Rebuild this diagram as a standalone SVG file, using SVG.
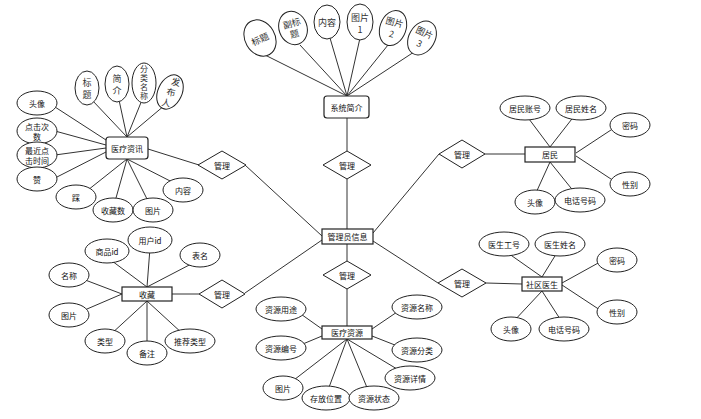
<svg xmlns="http://www.w3.org/2000/svg" width="701" height="419" viewBox="0 0 701 419">
<style>
.ln{stroke:#333;stroke-width:1;fill:none}
.el{fill:#fff;stroke:#222;stroke-width:1}
.en{fill:#fff;stroke:#222;stroke-width:1.2}
.dm{fill:#fff;stroke:#222;stroke-width:1}
text{font-family:"Noto Sans CJK SC","Noto Sans",sans-serif;font-size:8px;fill:#111;text-anchor:middle;dominant-baseline:central}
.sf{font-size:9px;fill:#333}
.vt{font-size:8px;fill:#333;writing-mode:vertical-rl;letter-spacing:1px}
</style>
<rect width="701" height="419" fill="#fff"/>
<g id="connectors">
<line class="ln" x1="347" y1="96" x2="265" y2="55"/>
<line class="ln" x1="347" y1="96" x2="300" y2="45"/>
<line class="ln" x1="347" y1="96" x2="330" y2="38"/>
<line class="ln" x1="347" y1="96" x2="360" y2="38"/>
<line class="ln" x1="347" y1="96" x2="388" y2="45"/>
<line class="ln" x1="347" y1="96" x2="414" y2="52"/>
<line class="ln" x1="127" y1="137" x2="92" y2="100"/>
<line class="ln" x1="127" y1="137" x2="119" y2="100"/>
<line class="ln" x1="127" y1="137" x2="142" y2="100"/>
<line class="ln" x1="127" y1="137" x2="165" y2="105"/>
<line class="ln" x1="106" y1="140" x2="55" y2="107"/>
<line class="ln" x1="106" y1="145" x2="55" y2="131"/>
<line class="ln" x1="106" y1="148" x2="55" y2="155"/>
<line class="ln" x1="106" y1="152" x2="55" y2="178"/>
<line class="ln" x1="127" y1="159" x2="88" y2="190"/>
<line class="ln" x1="127" y1="159" x2="114" y2="205"/>
<line class="ln" x1="127" y1="159" x2="150" y2="205"/>
<line class="ln" x1="127" y1="159" x2="178" y2="185"/>
<line class="ln" x1="550" y1="147" x2="526" y2="115"/>
<line class="ln" x1="550" y1="147" x2="575" y2="115"/>
<line class="ln" x1="576" y1="153" x2="614" y2="128"/>
<line class="ln" x1="576" y1="156" x2="614" y2="181"/>
<line class="ln" x1="550" y1="162" x2="535" y2="195"/>
<line class="ln" x1="550" y1="162" x2="575" y2="193"/>
<line class="ln" x1="542" y1="277" x2="505" y2="251"/>
<line class="ln" x1="542" y1="277" x2="558" y2="251"/>
<line class="ln" x1="562" y1="283" x2="600" y2="262"/>
<line class="ln" x1="562" y1="285" x2="600" y2="310"/>
<line class="ln" x1="542" y1="291" x2="513" y2="322"/>
<line class="ln" x1="542" y1="291" x2="562" y2="322"/>
<line class="ln" x1="147" y1="287" x2="108" y2="258"/>
<line class="ln" x1="147" y1="287" x2="150" y2="248"/>
<line class="ln" x1="147" y1="287" x2="195" y2="262"/>
<line class="ln" x1="122" y1="294" x2="80" y2="278"/>
<line class="ln" x1="122" y1="294" x2="80" y2="312"/>
<line class="ln" x1="147" y1="301" x2="110" y2="335"/>
<line class="ln" x1="147" y1="301" x2="147" y2="345"/>
<line class="ln" x1="147" y1="301" x2="183" y2="334"/>
<line class="ln" x1="322" y1="329" x2="298" y2="312"/>
<line class="ln" x1="322" y1="336" x2="298" y2="346"/>
<line class="ln" x1="372" y1="329" x2="400" y2="310"/>
<line class="ln" x1="372" y1="336" x2="400" y2="347"/>
<line class="ln" x1="347" y1="339" x2="290" y2="383"/>
<line class="ln" x1="347" y1="339" x2="328" y2="390"/>
<line class="ln" x1="347" y1="339" x2="368" y2="390"/>
<line class="ln" x1="347" y1="339" x2="402" y2="372"/>
<line class="ln" x1="347" y1="118" x2="347" y2="151"/>
<line class="ln" x1="347" y1="179" x2="347" y2="229"/>
<line class="ln" x1="148" y1="149" x2="199" y2="165"/>
<line class="ln" x1="245" y1="165" x2="322" y2="236"/>
<line class="ln" x1="525" y1="154" x2="485" y2="154"/>
<line class="ln" x1="439" y1="154" x2="373" y2="233"/>
<line class="ln" x1="347" y1="244" x2="347" y2="261"/>
<line class="ln" x1="347" y1="289" x2="347" y2="326"/>
<line class="ln" x1="172" y1="294" x2="199" y2="294"/>
<line class="ln" x1="245" y1="293" x2="322" y2="240"/>
<line class="ln" x1="522" y1="284" x2="486" y2="283"/>
<line class="ln" x1="438" y1="283" x2="373" y2="241"/>
</g>
<g id="admin"><rect class="en" x="322" y="229" width="51" height="15"/><text x="347.5" y="236.5">管理员信息</text></g>
<g id="sysintro"><rect class="en" x="324" y="96" width="45" height="22" rx="3"/><text x="346.5" y="107">系统简介</text></g>
<g id="s-title"><ellipse class="el" cx="260" cy="38" rx="15" ry="19" transform="rotate(-30 260 38)"/><text class="sf" x="260" y="39" transform="rotate(-25 260 39)">标题</text></g>
<g id="s-subtitle"><ellipse class="el" cx="293" cy="28" rx="14" ry="17" transform="rotate(-20 293 28)"/><text class="sf" x="293" y="23" transform="rotate(-15 293 28)">副标</text><text class="sf" x="293" y="34" transform="rotate(-15 293 28)">题</text></g>
<g id="s-content"><ellipse class="el" cx="327" cy="22" rx="13" ry="17"/><text class="sf" x="327" y="22">内容</text></g>
<g id="s-pic1"><ellipse class="el" cx="360" cy="22" rx="13" ry="18"/><text class="sf" x="360" y="17">图片</text><text class="sf" x="360" y="29">1</text></g>
<g id="s-pic2"><ellipse class="el" cx="393" cy="28" rx="13" ry="18" transform="rotate(20 393 28)"/><text class="sf" x="393" y="22" transform="rotate(15 393 28)">图片</text><text class="sf" x="393" y="34" transform="rotate(15 393 28)">2</text></g>
<g id="s-pic3"><ellipse class="el" cx="422" cy="38" rx="13" ry="18" transform="rotate(30 422 38)"/><text class="sf" x="422" y="32" transform="rotate(25 422 38)">图片</text><text class="sf" x="422" y="44" transform="rotate(25 422 38)">3</text></g>
<g id="d-top"><polygon class="dm" points="347,151 371,165 347,179 323,165"/><text x="347" y="165">管理</text></g>
<g id="d-lt"><polygon class="dm" points="222,151 246,165 222,179 198,165"/><text x="222" y="165">管理</text></g>
<g id="d-rt"><polygon class="dm" points="462,140 485,154 462,168 439,154"/><text x="462" y="154">管理</text></g>
<g id="d-bot"><polygon class="dm" points="347,261 371,275 347,289 323,275"/><text x="347" y="275">管理</text></g>
<g id="d-lb"><polygon class="dm" points="222,280 245,294 222,308 199,294"/><text x="222" y="294">管理</text></g>
<g id="d-rb"><polygon class="dm" points="462,269 486,283 462,297 438,283"/><text x="462" y="283">管理</text></g>
<g id="medinfo"><rect class="en" x="106" y="137" width="42" height="22" rx="3"/><text x="127" y="148">医疗资讯</text></g>
<g id="mi-title"><ellipse class="el" cx="87" cy="88" rx="12" ry="17"/><text class="sf" x="87" y="82">标</text><text class="sf" x="87" y="94">题</text></g>
<g id="mi-intro"><ellipse class="el" cx="117" cy="84" rx="12" ry="18"/><text class="sf" x="117" y="78">简</text><text class="sf" x="117" y="90">介</text></g>
<g id="mi-cat"><ellipse class="el" cx="144" cy="83" rx="12" ry="20"/><text class="vt" x="144" y="83">分类名称</text></g>
<g id="mi-author"><ellipse class="el" cx="170" cy="92" rx="12" ry="18" transform="rotate(25 170 92)"/><text class="sf" x="174" y="81" transform="rotate(10 170 92)">发</text><text class="sf" x="171" y="92" transform="rotate(10 170 92)">布</text><text class="sf" x="168" y="103" transform="rotate(10 170 92)">人</text></g>
<g id="mi-avatar"><ellipse class="el" cx="37" cy="103" rx="20" ry="12"/><text x="37" y="103">头像</text></g>
<g id="mi-clicks"><ellipse class="el" cx="37" cy="131" rx="20" ry="13"/><text x="37" y="126">点击次</text><text x="37" y="136">数</text></g>
<g id="mi-lastclick"><ellipse class="el" cx="37" cy="155" rx="20" ry="13"/><text x="37" y="150">最近点</text><text x="37" y="160">击时间</text></g>
<g id="mi-like"><ellipse class="el" cx="37" cy="179" rx="20" ry="12"/><text x="37" y="179">赞</text></g>
<g id="mi-dislike"><ellipse class="el" cx="76" cy="197" rx="20" ry="12"/><text x="76" y="197">踩</text></g>
<g id="mi-favs"><ellipse class="el" cx="113" cy="210" rx="20" ry="12"/><text x="113" y="210">收藏数</text></g>
<g id="mi-pic"><ellipse class="el" cx="153" cy="210" rx="20" ry="12"/><text x="153" y="210">图片</text></g>
<g id="mi-content"><ellipse class="el" cx="183" cy="190" rx="20" ry="12"/><text x="183" y="190">内容</text></g>
<g id="resident"><rect class="en" x="525" y="147" width="50" height="15"/><text x="550" y="154.5">居民</text></g>
<g id="r-account"><ellipse class="el" cx="525" cy="108" rx="25" ry="12"/><text x="525" y="108">居民账号</text></g>
<g id="r-name"><ellipse class="el" cx="581" cy="108" rx="25" ry="12"/><text x="581" y="108">居民姓名</text></g>
<g id="r-pwd"><ellipse class="el" cx="630" cy="125" rx="20" ry="12"/><text x="630" y="125">密码</text></g>
<g id="r-sex"><ellipse class="el" cx="630" cy="184" rx="20" ry="12"/><text x="630" y="184">性别</text></g>
<g id="r-avatar"><ellipse class="el" cx="535" cy="202" rx="20" ry="12"/><text x="535" y="202">头像</text></g>
<g id="r-phone"><ellipse class="el" cx="580" cy="200" rx="25" ry="12"/><text x="580" y="200">电话号码</text></g>
<g id="doctor"><rect class="en" x="522" y="277" width="40" height="14" stroke-width="1.6"/><text x="542" y="284">社区医生</text></g>
<g id="dc-no"><ellipse class="el" cx="504" cy="244" rx="25" ry="12"/><text x="504" y="244">医生工号</text></g>
<g id="dc-name"><ellipse class="el" cx="560" cy="244" rx="25" ry="12"/><text x="560" y="244">医生姓名</text></g>
<g id="dc-pwd"><ellipse class="el" cx="617" cy="260" rx="20" ry="12"/><text x="617" y="260">密码</text></g>
<g id="dc-sex"><ellipse class="el" cx="617" cy="312" rx="20" ry="12"/><text x="617" y="312">性别</text></g>
<g id="dc-avatar"><ellipse class="el" cx="511" cy="329" rx="20" ry="12"/><text x="511" y="329">头像</text></g>
<g id="dc-phone"><ellipse class="el" cx="564" cy="329" rx="25" ry="12"/><text x="564" y="329">电话号码</text></g>
<g id="collect"><rect class="en" x="122" y="287" width="50" height="14"/><text x="147" y="294">收藏</text></g>
<g id="c-goods"><ellipse class="el" cx="107" cy="251" rx="22" ry="12"/><text x="107" y="251">商品id</text></g>
<g id="c-user"><ellipse class="el" cx="150" cy="240" rx="22" ry="13"/><text x="150" y="240">用户id</text></g>
<g id="c-table"><ellipse class="el" cx="200" cy="255" rx="20" ry="12"/><text x="200" y="255">表名</text></g>
<g id="c-name"><ellipse class="el" cx="69" cy="275" rx="20" ry="12"/><text x="69" y="275">名称</text></g>
<g id="c-pic"><ellipse class="el" cx="69" cy="315" rx="20" ry="12"/><text x="69" y="315">图片</text></g>
<g id="c-type"><ellipse class="el" cx="105" cy="341" rx="20" ry="12"/><text x="105" y="341">类型</text></g>
<g id="c-note"><ellipse class="el" cx="147" cy="353" rx="20" ry="12"/><text x="147" y="353">备注</text></g>
<g id="c-rec"><ellipse class="el" cx="190" cy="341" rx="25" ry="12"/><text x="190" y="341">推荐类型</text></g>
<g id="resource"><rect class="en" x="322" y="326" width="50" height="13"/><text x="347" y="332.5">医疗资源</text></g>
<g id="rs-use"><ellipse class="el" cx="281" cy="309" rx="25" ry="12"/><text x="281" y="309">资源用途</text></g>
<g id="rs-no"><ellipse class="el" cx="281" cy="348" rx="25" ry="12"/><text x="281" y="348">资源编号</text></g>
<g id="rs-pic"><ellipse class="el" cx="283" cy="388" rx="20" ry="12"/><text x="283" y="388">图片</text></g>
<g id="rs-loc"><ellipse class="el" cx="326" cy="398" rx="24" ry="12"/><text x="326" y="398">存放位置</text></g>
<g id="rs-status"><ellipse class="el" cx="374" cy="398" rx="25" ry="12"/><text x="374" y="398">资源状态</text></g>
<g id="rs-detail"><ellipse class="el" cx="410" cy="378" rx="25" ry="12"/><text x="410" y="378">资源详情</text></g>
<g id="rs-cat"><ellipse class="el" cx="417" cy="350" rx="25" ry="12"/><text x="417" y="350">资源分类</text></g>
<g id="rs-name"><ellipse class="el" cx="417" cy="307" rx="25" ry="12"/><text x="417" y="307">资源名称</text></g>
</svg>
